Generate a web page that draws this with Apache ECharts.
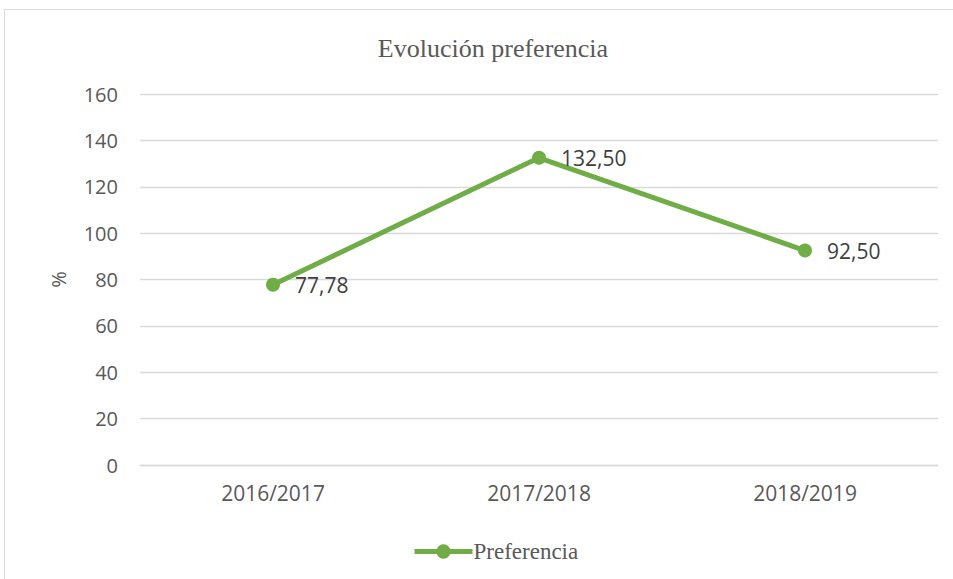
<!DOCTYPE html>
<html>
<head>
<meta charset="utf-8">
<script src="https://cdn.jsdelivr.net/npm/echarts@6/dist/echarts.min.js"></script>
<style>
  html, body { margin: 0; padding: 0; background: #fff; }
  #frame { position: absolute; left: 4px; top: 9px; width: 960px; height: 590px;
           border: 1px solid #d9d9d9; box-sizing: border-box; }
  #chart { position: absolute; left: 0; top: 0; width: 953px; height: 579px; }
</style>
</head>
<body>
<div id="frame"></div>
<div id="chart"></div>
<script>
  // Evolución preferencia - line chart
  var categories = ['2016/2017', '2017/2018', '2018/2019'];
  var preferencia = [77.78, 132.50, 92.50];
  var yTicks = { min: 0, max: 160, interval: 20 };

  var green = '#70ad47';
  var text = '#595959';
  var rule = '#d9d9d9';
  var serif = '"Liberation Serif", "DejaVu Serif", serif';
  var sans = '"Open Sans", "Noto Sans", sans-serif';

  var chart = echarts.init(document.getElementById('chart'), null, { renderer: 'svg' });
  chart.setOption({
    animation: false,
    title: {
      text: 'Evolución preferencia',
      left: 488,
      textAlign: 'center',
      top: 30,
      textStyle: { color: text, fontFamily: serif, fontSize: 26, fontWeight: 'normal' }
    },
    legend: {
      data: ['Preferencia'],
      left: 407,
      top: 535,
      itemWidth: 58,
      itemHeight: 18,
      itemGap: 0,
      lineStyle: { width: 5 },
      textStyle: { color: text, fontFamily: serif, fontSize: 23, padding: [0, 0, 0, -4] }
    },
    grid: { left: 140, right: 15, top: 94, bottom: 114, containLabel: false },
    xAxis: {
      type: 'category',
      data: categories,
      axisLine: { lineStyle: { color: rule, width: 1.3 } },
      axisTick: { show: false },
      axisLabel: { color: text, fontFamily: sans, fontSize: 21, margin: 17 }
    },
    yAxis: {
      type: 'value',
      min: yTicks.min,
      max: yTicks.max,
      interval: yTicks.interval,
      name: '%',
      nameLocation: 'middle',
      nameGap: 72,
      nameTextStyle: { color: text, fontFamily: sans, fontSize: 20 },
      axisLine: { show: false },
      axisTick: { show: false },
      splitLine: { lineStyle: { color: rule, width: 1.3 } },
      axisLabel: { color: text, fontFamily: sans, fontSize: 20, margin: 22 }
    },
    series: [{
      name: 'Preferencia',
      type: 'line',
      data: preferencia,
      symbol: 'circle',
      symbolSize: 14,
      lineStyle: { color: green, width: 5 },
      itemStyle: { color: green },
      label: {
        show: true,
        position: 'right',
        distance: 15,
        color: '#404040',
        fontFamily: sans,
        fontSize: 21,
        formatter: function(p) { return p.value.toFixed(2).replace('.', ','); }
      }
    }]
  });
</script>
</body>
</html>
